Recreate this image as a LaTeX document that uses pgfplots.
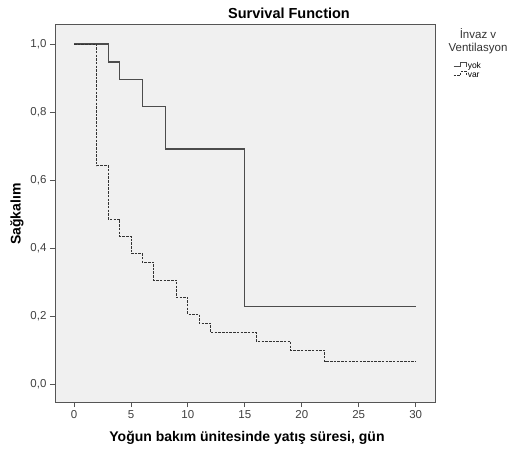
\documentclass[border=0pt]{standalone}
\usepackage{pgfplots}
\pgfplotsset{compat=1.18}
\usepackage{fontspec}
\setmainfont{Liberation Sans}
\definecolor{plotbg}{HTML}{F0F0F0}
\definecolor{framec}{HTML}{555555}
\begin{document}
\begin{tikzpicture}[x=1pt,y=1pt]
\path[use as bounding box] (0,0) rectangle (508,450);
\begin{axis}[
    at={(55pt,48pt)}, anchor=south west,
    scale only axis, width=380pt, height=377pt,
    xmin=-1.67, xmax=31.7, ymin=-0.053, ymax=1.056,
    xtick={0,5,...,30}, ytick={0,0.2,...,1.0},
    tick align=outside, xtick pos=left, ytick pos=left,
    major tick length=5pt,
    tick style={color=framec, line width=0.9pt},
    axis line style={color=framec, line width=1pt},
    axis background/.style={fill=plotbg},
    yticklabel style={/pgf/number format/.cd, use comma, fixed, fixed zerofill, precision=1},
    /pgf/number format/assume math mode=true,
    ticklabel style={font=\fontsize{11.5}{13}\selectfont, color=black!75},
    legend style={at={(1.047,0.902)}, anchor=north west, draw=none, fill=none,
        font=\fontsize{8.5}{9}\selectfont, row sep=0pt, inner sep=0pt,
        nodes={inner sep=0.5pt, text height=6pt, text depth=1.5pt},
        legend cell align=left},
    legend image code/.code={
        \draw[#1] (0pt,0pt) -- (7pt,0pt) -- (7pt,4pt) -- (13pt,4pt) -- (13pt,0pt);
    },
]
\addplot[const plot, color=black!70, line width=1.2pt] coordinates {
    (0,1) (3,0.947) (4,0.895) (6,0.816) (8,0.691) (15,0.228) (30,0.228)
};
\addlegendentry{yok}
\addplot[const plot, color=black!80, line width=0.9pt, dash pattern=on 2.5pt off 1.2pt] coordinates {
    (0,1) (2,0.642) (3,0.485) (4,0.435) (5,0.384) (6,0.358) (7,0.306)
    (9,0.255) (10,0.205) (11,0.178) (12,0.151) (16,0.126) (19,0.100)
    (22,0.066) (30,0.066)
};
\addlegendentry{var}
\end{axis}
\node[font=\bfseries\fontsize{14.5}{16}\selectfont] at (289,437) {Survival Function};
\node[font=\bfseries\fontsize{14}{16}\selectfont] at (247,12) {Yoğun bakım ünitesinde yatış süresi, gün};
\node[font=\bfseries\fontsize{14}{16}\selectfont, rotate=90] at (17,236) {Sağkalım};
\node[font=\fontsize{11.5}{12.5}\selectfont, align=center, text=black!80] at (478,409) {İnvaz v\\Ventilasyon};
\end{tikzpicture}
\end{document}
